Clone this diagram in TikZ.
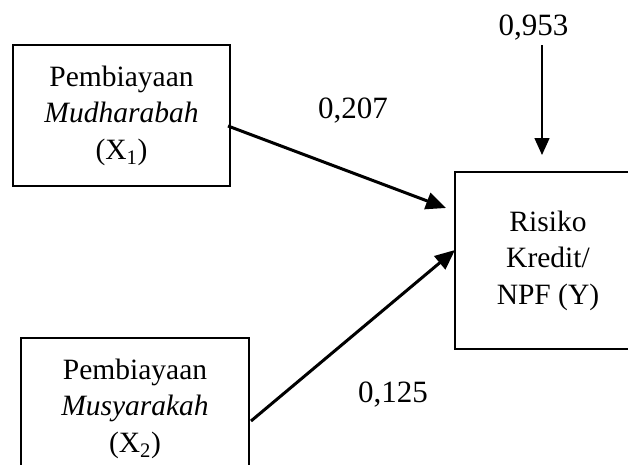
\documentclass[tikz,border=0pt]{standalone}
\usepackage{fontspec}
\setmainfont{Liberation Serif}
\usetikzlibrary{arrows.meta}
\tikzset{
  varbox/.style={draw, line width=2pt, align=center, inner sep=0pt,
    font=\fontsize{29.5}{36.5}\selectfont},
  coef/.style={inner sep=0pt, anchor=base, font=\fontsize{31}{36}\selectfont},
  path/.style={line width=3pt, -{Triangle[length=20pt,width=17pt]}},
  errarrow/.style={line width=1.5pt, -{Triangle[length=17pt,width=15pt]}}
}
\begin{document}
\begin{tikzpicture}[x=1pt,y=-1pt]
\useasboundingbox (0,0) rectangle (628,464);
\clip (0,0) rectangle (628,464);
\fill[white] (0,0) rectangle (628,464);
% exogenous variables
\node[varbox, minimum width=217pt, minimum height=141pt] (x1) at (121.5,115.5)
  {Pembiayaan\\\textit{Mudharabah}\\(X\textsubscript{1})};
\node[varbox, minimum width=228pt, minimum height=141pt] (x2) at (135,408.5)
  {Pembiayaan\\\textit{Musyarakah}\\(X\textsubscript{2})};
% endogenous variable
\node[varbox, minimum width=186pt, minimum height=177pt] (y) at (548,260.5)
  {Risiko\\Kredit/\\NPF (Y)};
% path coefficients
\node[coef] (c1) at (353,118) {0,207};
\node[coef] (c2) at (393,402) {0,125};
\node[coef] (e) at (533.5,35) {0,953};
\coordinate (etop) at (542,45);
\coordinate (ebot) at (542,155);
\coordinate (s1) at (228,126);
\coordinate (t1) at (446,208);
\coordinate (s2) at (251,421);
\coordinate (t2) at (455,250);
% arrows
\draw[path] (s1) -- (t1);
\draw[path] (s2) -- (t2);
\draw[errarrow] (etop) -- (ebot);
\end{tikzpicture}
\end{document}
